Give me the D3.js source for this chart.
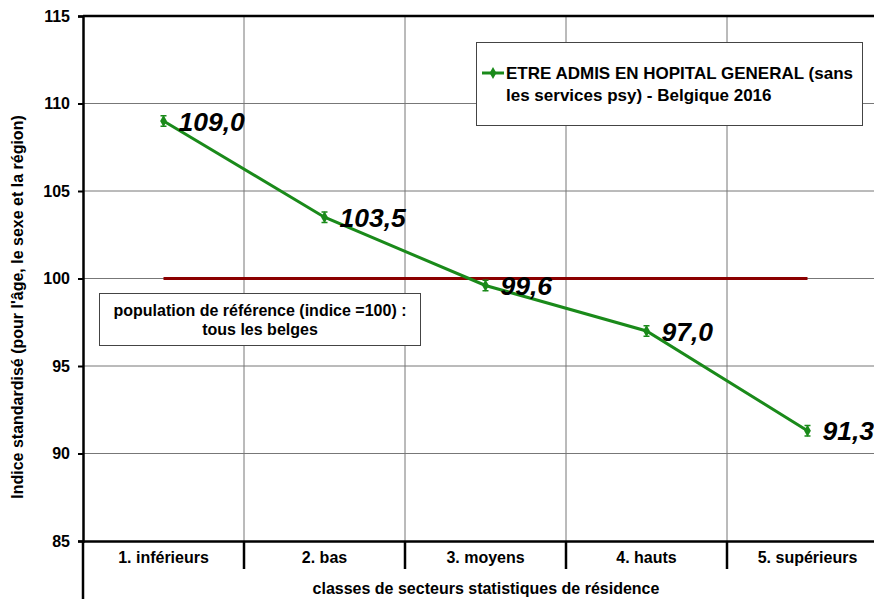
<!DOCTYPE html>
<meta charset="utf-8">
<style type="text/css">
	body { margin: 0; background: #fff; }
	svg { font-family: "Liberation Sans", Arial, sans-serif; }
	.axis text { font-size: 16px; font-weight: bold; fill: #000; }
	.grid line { stroke: #777; stroke-width: 1; }
	.value-label { font-size: 26.5px; font-weight: bold; font-style: italic; }
	.box-text { font-size: 16px; font-weight: bold; }
	.legend-text { font-size: 17px; font-weight: bold; }
	.title-text { font-size: 16px; font-weight: bold; }
</style>
<body></body>
<script src="https://d3js.org/d3.v7.min.js"></script>
<script>

	// data
	var categories = ["1. inférieurs", "2. bas", "3. moyens", "4. hauts", "5. supérieurs"];
	var values = [109.0, 103.5, 99.6, 97.0, 91.3];
	var errLow = [108.7, 103.2, 99.3, 96.7, 91.0];
	var errHigh = [109.3, 103.8, 99.9, 97.3, 91.6];
	var reference = [100, 100, 100, 100, 100];
	var yTicks = [85, 90, 95, 100, 105, 110, 115];

	var seriesName = ["ETRE ADMIS EN HOPITAL GENERAL (sans", "les services psy) - Belgique 2016"];
	var refText = ["population de référence (indice =100) :", "tous les belges"];

	var margin = {top: 16, left: 83};
	var width = 805, height = 525;

	var svg = d3.select("body").append("svg")
		.attr("width", 874)
		.attr("height", 599);

	var g = svg.append("g")
		.attr("transform", "translate(" + margin.left + "," + margin.top + ")");

	var xScale = d3.scaleBand()
		.domain(categories)
		.range([0, width]);

	var yScale = d3.scaleLinear()
		.domain([85, 115])
		.range([height, 0]);

	var cx = function(i) { return xScale(categories[i]) + xScale.bandwidth() / 2; };

	// horizontal grid
	g.append("g")
		.attr("class", "grid")
		.selectAll("line")
		.data(yTicks.slice(1, -1))
		.enter()
		.append("line")
		.attr("x1", 0)
		.attr("x2", width)
		.attr("y1", function(d) { return yScale(d); })
		.attr("y2", function(d) { return yScale(d); });

	// vertical grid
	g.append("g")
		.attr("class", "grid")
		.selectAll("line")
		.data(categories.slice(1))
		.enter()
		.append("line")
		.attr("x1", function(d) { return xScale(d); })
		.attr("x2", function(d) { return xScale(d); })
		.attr("y1", 0)
		.attr("y2", height);

	// frame top
	g.append("line")
		.attr("x1", 0).attr("x2", width)
		.attr("y1", 0).attr("y2", 0)
		.attr("stroke", "#000").attr("stroke-width", 2.5);

	// y axis
	var yAxis = d3.axisLeft(yScale)
		.tickValues(yTicks)
		.tickSize(5)
		.tickPadding(8)
		.tickFormat(d3.format("d"));

	var ya = g.append("g")
		.attr("class", "axis")
		.call(yAxis);
	ya.select(".domain").attr("stroke-width", 2.5);
	ya.selectAll(".tick line").attr("stroke-width", 2);

	// x axis
	var xa = g.append("g")
		.attr("class", "axis")
		.attr("transform", "translate(0," + height + ")")
		.call(d3.axisBottom(xScale).tickSize(0).tickPadding(11));
	xa.select(".domain").attr("stroke-width", 2.5);

	// category separators below axis
	xa.selectAll(".sep")
		.data(categories.slice(1))
		.enter()
		.append("line")
		.attr("class", "sep")
		.attr("x1", function(d) { return xScale(d); })
		.attr("x2", function(d) { return xScale(d); })
		.attr("y1", 0)
		.attr("y2", 28)
		.attr("stroke", "#000")
		.attr("stroke-width", 2.5);

	xa.append("line")
		.attr("x1", 0).attr("x2", 0)
		.attr("y1", 0).attr("y2", 58)
		.attr("stroke", "#000").attr("stroke-width", 2.5);

	// axis titles
	svg.append("text")
		.attr("class", "title-text")
		.attr("text-anchor", "middle")
		.attr("x", 486)
		.attr("y", 594)
		.text("classes de secteurs statistiques de résidence");

	svg.append("text")
		.attr("class", "title-text")
		.attr("text-anchor", "middle")
		.attr("transform", "translate(23,307) rotate(-90)")
		.text("Indice standardisé (pour l'âge, le sexe et la région)");

	// reference line
	var line = d3.line()
		.x(function(d, i) { return cx(i); })
		.y(function(d) { return yScale(d); });

	g.append("path")
		.datum(reference)
		.attr("fill", "none")
		.attr("stroke", "#8b0000")
		.attr("stroke-width", 3)
		.attr("d", line);

	// series line
	g.append("path")
		.datum(values)
		.attr("fill", "none")
		.attr("stroke", "#1a8a1a")
		.attr("stroke-width", 3)
		.attr("d", line);

	// error bars
	var eb = g.selectAll(".err")
		.data(values)
		.enter()
		.append("g")
		.attr("class", "err")
		.attr("stroke", "#1a8a1a")
		.attr("stroke-width", 1.5);

	eb.append("line")
		.attr("x1", function(d, i) { return cx(i); })
		.attr("x2", function(d, i) { return cx(i); })
		.attr("y1", function(d, i) { return yScale(errLow[i]); })
		.attr("y2", function(d, i) { return yScale(errHigh[i]); });
	eb.append("line")
		.attr("x1", function(d, i) { return cx(i) - 3; })
		.attr("x2", function(d, i) { return cx(i) + 3; })
		.attr("y1", function(d, i) { return yScale(errLow[i]); })
		.attr("y2", function(d, i) { return yScale(errLow[i]); });
	eb.append("line")
		.attr("x1", function(d, i) { return cx(i) - 3; })
		.attr("x2", function(d, i) { return cx(i) + 3; })
		.attr("y1", function(d, i) { return yScale(errHigh[i]); })
		.attr("y2", function(d, i) { return yScale(errHigh[i]); });

	// markers (small diamonds)
	g.selectAll(".marker")
		.data(values)
		.enter()
		.append("path")
		.attr("class", "marker")
		.attr("fill", "#1a8a1a")
		.attr("d", d3.symbol().type(d3.symbolDiamond).size(40))
		.attr("transform", function(d, i) { return "translate(" + cx(i) + "," + yScale(d) + ")"; });

	// value labels
	g.selectAll(".value-label")
		.data(values)
		.enter()
		.append("text")
		.attr("class", "value-label")
		.attr("x", function(d, i) { return cx(i) + 15; })
		.attr("y", function(d) { return yScale(d); })
		.attr("dy", "0.36em")
		.text(function(d) { return d3.format(".1f")(d).replace(".", ","); });

	// legend box
	svg.append("rect")
		.attr("x", 476.5).attr("y", 42.5)
		.attr("width", 386).attr("height", 83)
		.attr("fill", "#fff")
		.attr("stroke", "#444");

	svg.append("line")
		.attr("x1", 482).attr("x2", 504)
		.attr("y1", 73).attr("y2", 73)
		.attr("stroke", "#1a8a1a").attr("stroke-width", 3);
	svg.append("path")
		.attr("fill", "#1a8a1a")
		.attr("d", d3.symbol().type(d3.symbolDiamond).size(40))
		.attr("transform", "translate(493,73)");

	svg.append("text")
		.attr("class", "legend-text")
		.attr("x", 506)
		.attr("y", 79)
		.selectAll("tspan")
		.data(seriesName)
		.enter()
		.append("tspan")
		.attr("x", 506)
		.attr("dy", function(d, i) { return i ? 22 : 0; })
		.text(function(d) { return d; });

	// reference box
	svg.append("rect")
		.attr("x", 99.5).attr("y", 293.5)
		.attr("width", 321).attr("height", 52)
		.attr("fill", "#fff")
		.attr("stroke", "#444");

	svg.append("text")
		.attr("class", "box-text")
		.attr("text-anchor", "middle")
		.attr("y", 316)
		.selectAll("tspan")
		.data(refText)
		.enter()
		.append("tspan")
		.attr("x", 260)
		.attr("dy", function(d, i) { return i ? 19 : 0; })
		.text(function(d) { return d; });

</script>
